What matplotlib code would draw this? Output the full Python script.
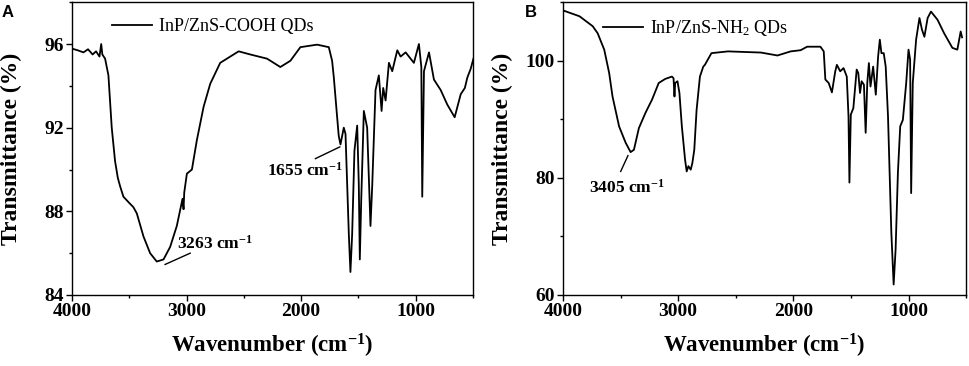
import numpy as np
import matplotlib
matplotlib.use('Agg')
import matplotlib.pyplot as plt
from matplotlib.ticker import MultipleLocator

plt.rcParams['font.family'] = 'Liberation Serif'
plt.rcParams['mathtext.fontset'] = 'custom'
plt.rcParams['mathtext.rm'] = 'Liberation Serif:bold'
plt.rcParams['mathtext.it'] = 'Liberation Serif:bold'
plt.rcParams['mathtext.default'] = 'regular'

# FTIR spectrum of InP/ZnS-COOH QDs (panel A)
wn_a = [4000, 3950, 3900, 3860, 3820, 3790, 3760, 3745, 3735, 3711, 3682, 3653, 3624, 3600,
        3580, 3551, 3500, 3464, 3434, 3376, 3318, 3260, 3201, 3143, 3085, 3035, 3026, 3020,
        2997, 2953, 2910, 2851, 2793, 2706, 2589, 2545, 2443, 2297, 2181, 2093, 2006, 1860,
        1758, 1729, 1714, 1685, 1671, 1656, 1627, 1612, 1583, 1569, 1554, 1534, 1510, 1496,
        1487, 1475, 1452, 1423, 1394, 1379, 1350, 1321, 1297, 1283, 1262, 1233, 1204, 1160,
        1131, 1087, 1015, 971, 950, 942, 927, 883, 840, 781, 723, 659, 606, 570, 548, 520, 495]
tr_a = [95.78, 95.7, 95.6, 95.75, 95.5, 95.65, 95.4, 96.0, 95.5, 95.3, 94.5, 92.0, 90.4, 89.6,
        89.2, 88.7, 88.4, 88.2, 87.9, 86.8, 86.0, 85.6, 85.7, 86.3, 87.3, 88.6, 88.1, 88.9,
        89.8, 90.0, 91.4, 93.0, 94.1, 95.1, 95.5, 95.65, 95.5, 95.3, 94.9, 95.2, 95.85, 95.97,
        95.85, 95.2, 94.4, 92.5, 91.6, 91.2, 92.0, 91.7, 86.9, 85.1, 86.9, 90.9, 92.1, 89.3,
        85.7, 88.5, 92.8, 92.0, 87.3, 89.2, 93.8, 94.5, 92.8, 93.9, 93.3, 95.1, 94.7, 95.7,
        95.4, 95.6, 95.1, 96.0, 94.9, 88.7, 94.7, 95.6, 94.3, 93.8, 93.1, 92.5, 93.6, 93.9, 94.4, 94.8, 95.3]

# FTIR spectrum of InP/ZnS-NH2 QDs (panel B)
wn_b = [4000, 3857, 3742, 3699, 3642, 3599, 3570, 3513, 3456, 3413, 3384, 3341, 3284, 3226,
        3169, 3112, 3054, 3040, 3032, 3026, 3006, 2989, 2968, 2940, 2926, 2911, 2891, 2877,
        2860, 2840, 2811, 2782, 2768, 2711, 2567, 2281, 2138, 2023, 1937, 1880, 1765, 1736,
        1722, 1693, 1665, 1636, 1622, 1593, 1564, 1536, 1521, 1513, 1501, 1479, 1450, 1436,
        1421, 1407, 1387, 1372, 1358, 1344, 1330, 1307, 1284, 1264, 1249, 1235, 1215, 1198,
        1178, 1149, 1129, 1112, 1092, 1072, 1049, 1020, 1000, 986, 977, 963, 934, 905, 883,
        862, 834, 805, 748, 691, 619, 576, 547, 535]
tr_b = [108.6, 107.6, 105.9, 104.7, 101.9, 97.9, 93.9, 88.8, 86.0, 84.4, 84.8, 88.5, 91.1, 93.4,
        96.2, 96.9, 97.3, 97.0, 93.9, 96.2, 96.5, 94.5, 88.8, 83.1, 81.1, 82.0, 81.4, 82.5,
        84.8, 91.6, 97.3, 99.0, 99.3, 101.3, 101.6, 101.4, 100.9, 101.6, 101.8, 102.4, 102.4, 101.6,
        96.8, 96.2, 94.6, 98.2, 99.3, 98.2, 98.75, 97.3, 90.5, 79.2, 90.8, 91.9, 98.5, 97.9,
        94.5, 96.5, 95.9, 87.7, 96.2, 99.6, 95.6, 99.0, 94.2, 100.7, 103.6, 101.3, 101.3, 99.0,
        90.5, 70.6, 61.8, 67.8, 80.9, 88.8, 89.9, 96.2, 101.9, 100.2, 77.4, 96.2, 103.6, 107.3, 105.3,
        104.1, 107.3, 108.4, 107.0, 104.7, 102.2, 101.9, 105.0, 104.0]

fig = plt.figure(figsize=(9.69, 3.66), dpi=100)
ax1 = fig.add_axes([0.0743, 0.194, 0.4137, 0.80])
ax2 = fig.add_axes([0.581, 0.194, 0.416, 0.80])


def style_axis(ax, ylim, ymajor, yminor):
    ax.set_xlim(4000, 500)
    ax.set_ylim(*ylim)
    ax.xaxis.set_major_locator(MultipleLocator(1000))
    ax.xaxis.set_minor_locator(MultipleLocator(500))
    ax.yaxis.set_major_locator(MultipleLocator(ymajor))
    ax.yaxis.set_minor_locator(MultipleLocator(yminor))
    ax.tick_params(which='major', direction='out', length=4, width=1, labelsize=14, pad=2)
    ax.tick_params(which='minor', direction='out', length=2.5, width=1)
    for lab in ax.get_xticklabels() + ax.get_yticklabels():
        lab.set_fontweight('bold')
    for s in ax.spines.values():
        s.set_linewidth(1)
    ax.set_xlabel('Wavenumber (cm$^{-1}$)', fontweight='bold', fontsize=16.5, labelpad=8)
    ax.set_ylabel('Transmittance (%)', fontweight='bold', fontsize=17)
    ax.yaxis.set_label_coords(-0.125, 0.5)


ax1.plot(wn_a, tr_a, color='black', lw=1.3, label='InP/ZnS-COOH QDs')
style_axis(ax1, (84, 98), 4, 2)
ax2.plot(wn_b, tr_b, color='black', lw=1.3, label='InP/ZnS-NH$_2$ QDs')
style_axis(ax2, (60, 110), 20, 10)

for ax in (ax1, ax2):
    ax.legend(loc='upper left', bbox_to_anchor=(0.06, 1.0), frameon=False,
              handlelength=2.2, handletextpad=0.4, prop={'size': 13})

# peak annotations
ax1.plot([3187, 2968], [85.46, 86.0], color='black', lw=1)
ax1.text(3085, 86.45, '3263 cm$^{-1}$', fontweight='bold', fontsize=12.5, va='center', ha='left')
ax1.plot([1875, 1662], [90.52, 91.08], color='black', lw=1)
ax1.text(2297, 89.95, '1655 cm$^{-1}$', fontweight='bold', fontsize=12.5, va='center', ha='left')
ax2.plot([3499, 3436], [81.1, 83.8], color='black', lw=1)
ax2.text(3771, 78.3, '3405 cm$^{-1}$', fontweight='bold', fontsize=12.5, va='center', ha='left')

fig.text(0.002, 0.985, 'A', fontfamily='Liberation Sans', fontweight='bold', fontsize=12, va='top')
fig.text(0.542, 0.985, 'B', fontfamily='Liberation Sans', fontweight='bold', fontsize=12, va='top')

fig.savefig('out.png', dpi=100)
